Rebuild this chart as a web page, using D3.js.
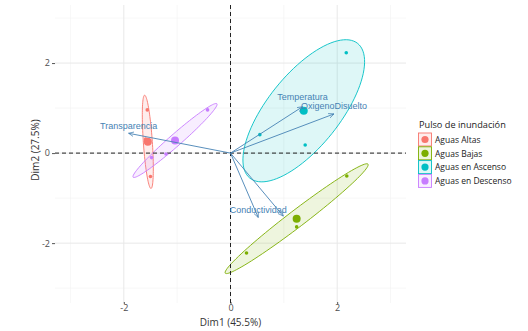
<!DOCTYPE html>
<html>
<head>
<meta charset="utf-8">
<script src="https://cdn.jsdelivr.net/npm/d3@7"></script>
<style>
  body { margin: 0; background: #fff; }
  svg { display: block; }
</style>
</head>
<body>
<div id="chart"></div>
<script>
// groups and colours (ggplot defaults)
var groups = ["Aguas Altas", "Aguas Bajas", "Aguas en Ascenso", "Aguas en Descenso"];
var groupColors = ["#F8766D", "#7CAE00", "#00BFC4", "#C77CFF"];

// individuals (sampling points)
var indGroup = [0, 0, 0, 1, 1, 1, 2, 2, 2, 3, 3, 3];
var indDim1 = [-1.56, -1.59, -1.50, 2.18, 1.24, 0.30, 2.17, 0.55, 1.40, -0.43, -1.21, -1.48];
var indDim2 = [0.96, 0.31, -0.52, -0.51, -1.64, -2.22, 2.23, 0.41, 0.18, 0.96, -0.02, -0.10];

// ellipse semi-diameters (data units), one pair per group
var ellUx = [-0.060, 1.338, 1.011, 0.785];
var ellUy = [1.036, 1.211, 1.496, 0.816];
var ellVx = [0.084, 0.095, 0.528, 0.074];
var ellVy = [0.007, -0.148, -0.505, -0.100];

// variables
var varNames = ["Transparencia", "Temperatura", "OxigenoDisuelto", "Conductividad", ""];
var varDim1 = [-1.91, 1.35, 1.94, 0.52, 0.99];
var varDim2 = [0.44, 1.03, 0.87, -1.43, -1.40];

var majorTicks = [-2, 0, 2];
var minorTicks = [-3, -1, 1, 3];

var width = 528, height = 331;
var svg = d3.select("#chart").append("svg")
    .attr("width", width)
    .attr("height", height)
    .style("font-family", "'Open Sans', sans-serif");

var x = d3.scaleLinear().domain([-3.29, 3.29]).range([55, 406]);
var y = d3.scaleLinear().domain([-3.33, 3.29]).range([303, 5]);

// grid
var grid = svg.append("g");
grid.selectAll(".vminor").data(minorTicks).enter().append("line")
    .attr("x1", d => x(d)).attr("x2", d => x(d))
    .attr("y1", y.range()[1]).attr("y2", y.range()[0])
    .attr("stroke", "#f2f2f2").attr("stroke-width", 0.6);
grid.selectAll(".hminor").data(minorTicks).enter().append("line")
    .attr("y1", d => y(d)).attr("y2", d => y(d))
    .attr("x1", x.range()[0]).attr("x2", x.range()[1])
    .attr("stroke", "#f2f2f2").attr("stroke-width", 0.6);
grid.selectAll(".vmajor").data(majorTicks).enter().append("line")
    .attr("x1", d => x(d)).attr("x2", d => x(d))
    .attr("y1", y.range()[1]).attr("y2", y.range()[0])
    .attr("stroke", "#e8e8e8").attr("stroke-width", 1);
grid.selectAll(".hmajor").data(majorTicks).enter().append("line")
    .attr("y1", d => y(d)).attr("y2", d => y(d))
    .attr("x1", x.range()[0]).attr("x2", x.range()[1])
    .attr("stroke", "#e8e8e8").attr("stroke-width", 1);

// axes
var fmt = d => String(d);
var xAxis = d3.axisBottom(x).tickValues(majorTicks).tickFormat(fmt).tickSize(2).tickPadding(1);
var yAxis = d3.axisLeft(y).tickValues(majorTicks).tickFormat(fmt).tickSize(3).tickPadding(2);
var gx = svg.append("g").attr("transform", "translate(0,302)").call(xAxis);
var gy = svg.append("g").attr("transform", "translate(55,0)").call(yAxis);
[gx, gy].forEach(function(g) {
    g.select(".domain").remove();
    g.selectAll(".tick line").attr("stroke", "#555");
    g.selectAll(".tick text").attr("fill", "#4d4d4d")
        .style("font-family", "'Open Sans', sans-serif").style("font-size", "9px");
});

// ellipses
var line = d3.line().x(d => x(d[0])).y(d => y(d[1]));
var ellData = groups.map(function(g, i) {
    var xs = indDim1.filter((v, k) => indGroup[k] === i);
    var ys = indDim2.filter((v, k) => indGroup[k] === i);
    var cx = d3.mean(xs), cy = d3.mean(ys);
    var pts = d3.range(0, 101).map(function(j) {
        var t = j / 100 * 2 * Math.PI;
        return [cx + ellUx[i] * Math.cos(t) + ellVx[i] * Math.sin(t),
                cy + ellUy[i] * Math.cos(t) + ellVy[i] * Math.sin(t)];
    });
    return {i: i, cx: cx, cy: cy, pts: pts};
});

svg.append("g").selectAll("path").data(ellData).enter().append("path")
    .attr("d", d => line(d.pts))
    .attr("fill", d => groupColors[d.i])
    .attr("fill-opacity", 0.13)
    .attr("stroke", d => groupColors[d.i])
    .attr("stroke-width", 0.9);

// zero lines
svg.append("line")
    .attr("x1", x.range()[0]).attr("x2", x.range()[1])
    .attr("y1", y(0)).attr("y2", y(0))
    .attr("stroke", "#222").attr("stroke-width", 1).attr("stroke-dasharray", "4,3");
svg.append("line")
    .attr("x1", x(0)).attr("x2", x(0))
    .attr("y1", y.range()[1]).attr("y2", y.range()[0])
    .attr("stroke", "#222").attr("stroke-width", 1).attr("stroke-dasharray", "4,3");

// individual points
svg.append("g").selectAll("circle").data(indDim1).enter().append("circle")
    .attr("cx", (d, k) => x(d))
    .attr("cy", (d, k) => y(indDim2[k]))
    .attr("r", 1.8)
    .attr("fill", (d, k) => groupColors[indGroup[k]]);

// group means
svg.append("g").selectAll("circle").data(ellData).enter().append("circle")
    .attr("cx", d => x(d.cx))
    .attr("cy", d => y(d.cy))
    .attr("r", 4)
    .attr("fill", d => groupColors[d.i]);

// variable arrows
var defs = svg.append("defs");
defs.append("marker")
    .attr("id", "arrow")
    .attr("viewBox", "0 0 10 10")
    .attr("refX", 9).attr("refY", 5)
    .attr("markerWidth", 6).attr("markerHeight", 6)
    .attr("markerUnits", "userSpaceOnUse")
    .attr("orient", "auto")
    .append("path")
    .attr("d", "M0,1 L9,5 L0,9")
    .attr("fill", "none")
    .attr("stroke", "steelblue")
    .attr("stroke-width", 1.2);

var arrows = svg.append("g");
arrows.selectAll("line").data(varDim1).enter().append("line")
    .attr("x1", x(0)).attr("y1", y(0))
    .attr("x2", d => x(d))
    .attr("y2", (d, k) => y(varDim2[k]))
    .attr("stroke", "steelblue")
    .attr("stroke-width", 0.9)
    .attr("marker-end", "url(#arrow)");

// labels sit just above the arrow tip (Temperatura a bit higher, as in the original)
arrows.selectAll("text").data(varNames).enter().append("text")
    .attr("x", (d, k) => x(varDim1[k]))
    .attr("y", (d, k) => y(varDim2[k]) - (d === "Temperatura" ? 7 : 4.5))
    .attr("text-anchor", "middle")
    .attr("fill", "steelblue")
    .style("font-family", "'Liberation Sans', Arial, sans-serif")
    .style("font-size", "9px")
    .text(d => d);

// axis titles
svg.append("text")
    .attr("x", x(0)).attr("y", 325.5)
    .attr("text-anchor", "middle")
    .attr("fill", "#333")
    .style("font-size", "10px")
    .text("Dim1 (45.5%)");
svg.append("text")
    .attr("transform", "translate(39,150) rotate(-90)")
    .attr("text-anchor", "middle")
    .attr("fill", "#333")
    .style("font-size", "10px")
    .text("Dim2 (27.5%)");

// legend
var legend = svg.append("g").attr("transform", "translate(418,0)");
legend.append("text")
    .attr("x", 1).attr("y", 127.5)
    .attr("fill", "#222")
    .style("font-size", "9.2px")
    .text("Pulso de inundación");
var items = legend.selectAll(".item").data(groups).enter().append("g")
    .attr("transform", (d, i) => "translate(0," + (133 + i * 13.8) + ")");
items.append("rect")
    .attr("x", 0.5).attr("y", 0).attr("width", 13).attr("height", 13)
    .attr("fill", (d, i) => groupColors[i]).attr("fill-opacity", 0.13)
    .attr("stroke", (d, i) => groupColors[i]).attr("stroke-width", 0.9);
items.append("circle")
    .attr("cx", 7).attr("cy", 6.5).attr("r", 3.6)
    .attr("fill", (d, i) => groupColors[i]);
items.append("text")
    .attr("x", 17).attr("y", 9.8)
    .attr("fill", "#222")
    .style("font-size", "8.5px")
    .text(d => d);
</script>
</body>
</html>
